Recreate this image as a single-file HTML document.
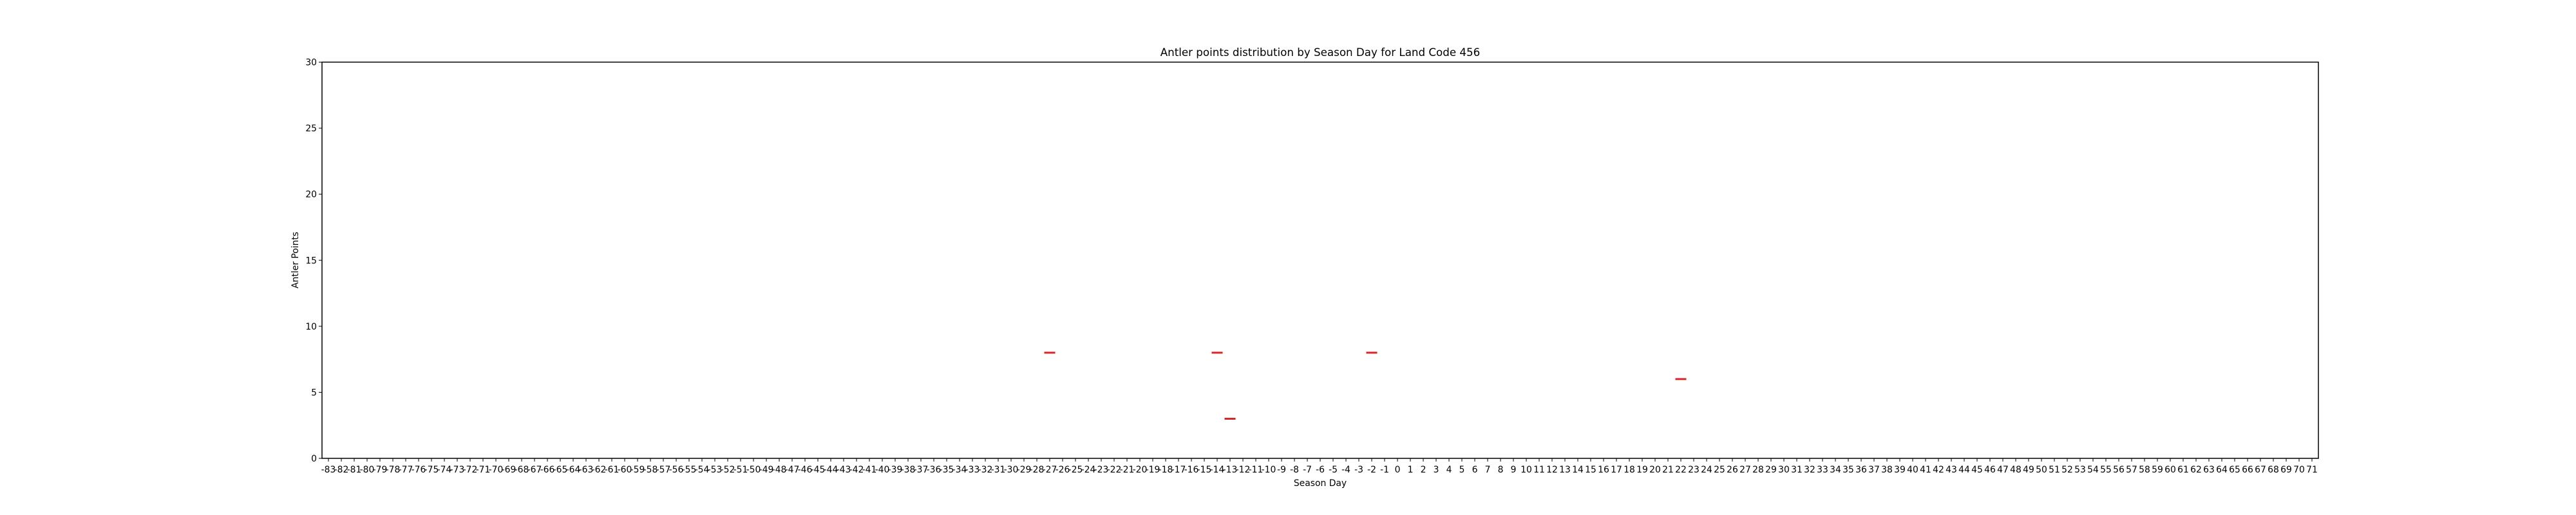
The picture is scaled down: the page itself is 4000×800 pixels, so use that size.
<!DOCTYPE html>
<html><head><meta charset="utf-8"><style>
html,body{margin:0;padding:0;background:#fff;}
svg{display:block;font-family:"DejaVu Sans","Liberation Sans",sans-serif;}
</style></head><body>
<svg id="chart" width="4000" height="800" viewBox="0 0 4000 800">
<rect x="0" y="0" width="4000" height="800" fill="#fff"/>
<text x="2050" y="87" font-size="16.7" text-anchor="middle" fill="#000">Antler points distribution by Season Day for Land Code 456</text>
<text transform="translate(463,404) rotate(-90)" font-size="13.9" text-anchor="middle" fill="#000">Antler Points</text>
<text x="2050" y="755" font-size="13.9" text-anchor="middle" fill="#000">Season Day</text>
<g id="ticks"></g>
<g id="marks"></g>
<rect x="500" y="96.5" width="3100" height="615.5" fill="none" stroke="#000" stroke-width="1.5"/>
</svg>
<script>
const dayMin = -83;
const dayMax = 71;
const yTicks = [0, 5, 10, 15, 20, 25, 30];
const boxDays = [-27, -14, -13, -2, 22];
const boxMedians = [8, 8, 3, 8, 6];

const L = 500, R = 3600, T = 96.5, B = 712;
const nCat = dayMax - dayMin + 1;
const step = (R - L) / nCat;
function xPos(day) { return L + (day - dayMin + 0.5) * step; }
function yPos(v) { return B - (v / 30) * (B - T); }
const NS = "http://www.w3.org/2000/svg";
const tg = document.getElementById("ticks");
const mg = document.getElementById("marks");

for (const v of yTicks) {
  const y = yPos(v);
  const ln = document.createElementNS(NS, "line");
  ln.setAttribute("x1", L - 5); ln.setAttribute("x2", L);
  ln.setAttribute("y1", y); ln.setAttribute("y2", y);
  ln.setAttribute("stroke", "#000"); ln.setAttribute("stroke-width", "1");
  
  
  tg.appendChild(ln);
  const t = document.createElementNS(NS, "text");
  t.setAttribute("x", L - 8); t.setAttribute("y", y + 5);
  t.setAttribute("text-anchor", "end"); t.setAttribute("font-size", "13.9");
  t.textContent = v;
  
  
  tg.appendChild(t);
}
for (let d = dayMin; d <= dayMax; d++) {
  const x = xPos(d);
  const ln = document.createElementNS(NS, "line");
  ln.setAttribute("x1", x); ln.setAttribute("x2", x);
  ln.setAttribute("y1", B); ln.setAttribute("y2", B + 5);
  ln.setAttribute("stroke", "#000"); ln.setAttribute("stroke-width", "1");
  
  
  tg.appendChild(ln);
  const t = document.createElementNS(NS, "text");
  t.setAttribute("x", x); t.setAttribute("y", B + 22);
  t.setAttribute("text-anchor", "middle"); t.setAttribute("font-size", "13.9");
  t.textContent = d;
  
  
  tg.appendChild(t);
}
for (let i = 0; i < boxDays.length; i++) {
  const x = xPos(boxDays[i]);
  const y = yPos(boxMedians[i]);
  const ln = document.createElementNS(NS, "line");
  ln.setAttribute("x1", x - 8.5); ln.setAttribute("x2", x + 8.5);
  ln.setAttribute("y1", y); ln.setAttribute("y2", y);
  ln.setAttribute("stroke", "#d62728"); ln.setAttribute("stroke-width", "3");
  
  
  mg.appendChild(ln);
}
</script>
</body></html>
